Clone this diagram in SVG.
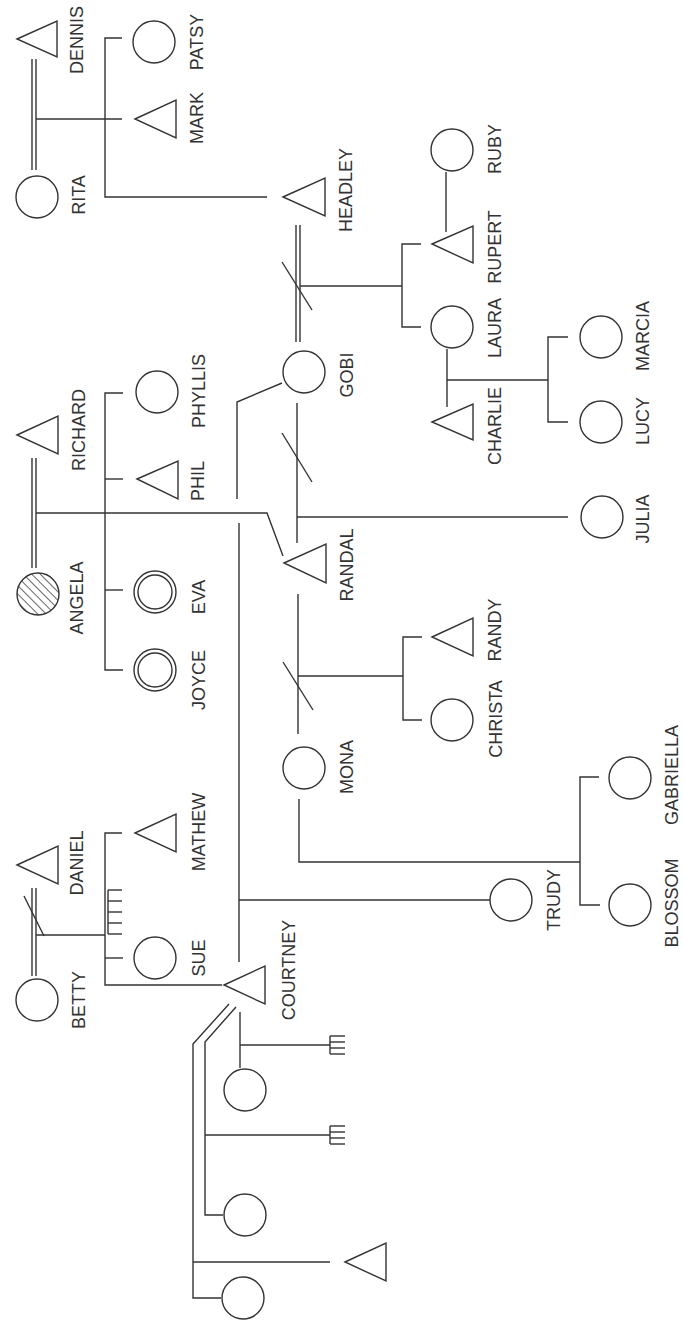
<svg xmlns="http://www.w3.org/2000/svg" width="684" height="1321" viewBox="0 0 684 1321">
<style>
.l{fill:none;stroke:#333;stroke-width:1.4}
.sh{fill:#fff;stroke:#333;stroke-width:1.4}
text{font-family:"Liberation Sans",Arial,sans-serif;font-size:18px;fill:#333;text-anchor:middle}
</style>
<defs>
<pattern id="hatch" width="6" height="6" patternUnits="userSpaceOnUse" patternTransform="rotate(-45)">
<line x1="0" y1="0" x2="0" y2="6" stroke="#333" stroke-width="1.5"/>
</pattern>
</defs>
<rect width="684" height="1321" fill="#fff"/>
<g id="connectors" class="l">
<line x1="32" y1="59" x2="32" y2="170"/><line x1="36" y1="59" x2="36" y2="170"/>
<line x1="36" y1="119" x2="122" y2="119"/>
<polyline points="122,38 105,38 105,197 267,197"/>
<line x1="296" y1="225" x2="296" y2="342"/><line x1="300" y1="225" x2="300" y2="342"/>
<line x1="282" y1="262" x2="312" y2="310"/>
<line x1="300" y1="286" x2="402" y2="286"/>
<polyline points="421,244 402,244 402,327 421,327"/>
<line x1="446" y1="172" x2="446" y2="232"/>
<line x1="447" y1="349" x2="447" y2="407"/>
<line x1="447" y1="380" x2="548" y2="380"/>
<polyline points="568,337 548,337 548,422 568,422"/>
<polyline points="282,383 237,402 237,499"/>
<line x1="239" y1="523" x2="239" y2="962"/>
<line x1="297" y1="403" x2="297" y2="543"/>
<line x1="282" y1="433" x2="312" y2="482"/>
<line x1="297" y1="517" x2="568" y2="517"/>
<line x1="32" y1="458" x2="32" y2="568"/><line x1="36" y1="458" x2="36" y2="568"/>
<polyline points="36,513 267,513 283,556"/>
<polyline points="123,393 105,393 105,670 123,670"/>
<line x1="105" y1="479" x2="123" y2="479"/>
<line x1="105" y1="590" x2="123" y2="590"/>
<line x1="298" y1="594" x2="298" y2="734"/>
<line x1="283" y1="662" x2="313" y2="710"/>
<line x1="298" y1="676" x2="403" y2="676"/>
<polyline points="422,637 403,637 403,720 422,720"/>
<polyline points="299,799 299,862 580,862"/>
<polyline points="599,777 580,777 580,905 600,905"/>
<line x1="32" y1="888" x2="32" y2="976"/><line x1="36" y1="888" x2="36" y2="976"/>
<line x1="24" y1="896" x2="44" y2="936"/>
<line x1="36" y1="935" x2="105" y2="935"/>
<polyline points="122,833 105,833 105,985 222,985"/>
<line x1="105" y1="958" x2="123" y2="958"/>
<line x1="108" y1="890" x2="108" y2="934"/>
<line x1="108" y1="890" x2="122" y2="890"/><line x1="108" y1="901" x2="122" y2="901"/><line x1="108" y1="912" x2="122" y2="912"/><line x1="108" y1="923" x2="122" y2="923"/><line x1="108" y1="934" x2="122" y2="934"/>
<line x1="239" y1="900" x2="490" y2="900"/>
<line x1="240" y1="1012" x2="240" y2="1068"/>
<line x1="240" y1="1045" x2="330" y2="1045"/>
<line x1="330" y1="1036" x2="330" y2="1054"/>
<line x1="330" y1="1036" x2="345" y2="1036"/><line x1="330" y1="1042" x2="345" y2="1042"/><line x1="330" y1="1048" x2="345" y2="1048"/><line x1="330" y1="1054" x2="345" y2="1054"/>
<polyline points="236,1007 205,1042 205,1215 223,1215"/>
<line x1="205" y1="1135" x2="330" y2="1135"/>
<line x1="330" y1="1126" x2="330" y2="1144"/>
<line x1="330" y1="1126" x2="345" y2="1126"/><line x1="330" y1="1132" x2="345" y2="1132"/><line x1="330" y1="1138" x2="345" y2="1138"/><line x1="330" y1="1144" x2="345" y2="1144"/>
<polyline points="229,1004 193,1044 193,1298 221,1298"/>
<line x1="193" y1="1262" x2="330" y2="1262"/>
</g>
<g id="dennis"><polygon class="sh" points="17,39 57,21 57,57"/><text transform="translate(83,40) rotate(-90)">DENNIS</text></g>
<g id="rita"><circle class="sh" cx="37" cy="197" r="21"/><text transform="translate(85,195) rotate(-90)">RITA</text></g>
<g id="mark"><polygon class="sh" points="135,119 176,100 176,138"/><text transform="translate(203,118) rotate(-90)">MARK</text></g>
<g id="patsy"><circle class="sh" cx="154" cy="42" r="21"/><text transform="translate(203,42) rotate(-90)">PATSY</text></g>
<g id="headley"><polygon class="sh" points="283,197 325,178 325,216"/><text transform="translate(352,190) rotate(-90)">HEADLEY</text></g>
<g id="ruby"><circle class="sh" cx="452" cy="150" r="21"/><text transform="translate(501,149) rotate(-90)">RUBY</text></g>
<g id="rupert"><polygon class="sh" points="432,244 473,226 473,263"/><text transform="translate(501,247) rotate(-90)">RUPERT</text></g>
<g id="laura"><circle class="sh" cx="452" cy="327" r="21"/><text transform="translate(501,328) rotate(-90)">LAURA</text></g>
<g id="gobi"><circle class="sh" cx="304" cy="372" r="21"/><text transform="translate(353,375) rotate(-90)">GOBI</text></g>
<g id="marcia"><circle class="sh" cx="601" cy="337" r="21"/><text transform="translate(649,336) rotate(-90)">MARCIA</text></g>
<g id="charlie"><polygon class="sh" points="432,422 473,404 473,440"/><text transform="translate(501,426) rotate(-90)">CHARLIE</text></g>
<g id="lucy"><circle class="sh" cx="601" cy="422" r="21"/><text transform="translate(649,421) rotate(-90)">LUCY</text></g>
<g id="julia"><circle class="sh" cx="602" cy="517" r="21"/><text transform="translate(649,519) rotate(-90)">JULIA</text></g>
<g id="richard"><polygon class="sh" points="17,435 58,416 58,454"/><text transform="translate(85,430) rotate(-90)">RICHARD</text></g>
<g id="angela"><circle cx="38" cy="594" r="21" fill="url(#hatch)" stroke="#333" stroke-width="1.4"/><text transform="translate(83,598) rotate(-90)">ANGELA</text></g>
<g id="phyllis"><circle class="sh" cx="157" cy="392" r="21"/><text transform="translate(205,391) rotate(-90)">PHYLLIS</text></g>
<g id="phil"><polygon class="sh" points="137,479 178,461 178,499"/><text transform="translate(204,481) rotate(-90)">PHIL</text></g>
<g id="eva"><circle class="sh" cx="155" cy="592" r="21"/><circle class="sh" cx="155" cy="592" r="17"/><text transform="translate(205,597) rotate(-90)">EVA</text></g>
<g id="joyce"><circle class="sh" cx="155" cy="670" r="21"/><circle class="sh" cx="155" cy="670" r="17"/><text transform="translate(205,680) rotate(-90)">JOYCE</text></g>
<g id="randal"><polygon class="sh" points="284,563 326,544 326,583"/><text transform="translate(353,565) rotate(-90)">RANDAL</text></g>
<g id="randy"><polygon class="sh" points="432,637 473,618 473,656"/><text transform="translate(501,630) rotate(-90)">RANDY</text></g>
<g id="christa"><circle class="sh" cx="452" cy="720" r="21"/><text transform="translate(502,719) rotate(-90)">CHRISTA</text></g>
<g id="mona"><circle class="sh" cx="304" cy="768" r="21"/><text transform="translate(353,767) rotate(-90)">MONA</text></g>
<g id="gabriella"><circle class="sh" cx="630" cy="778" r="21"/><text transform="translate(678,775) rotate(-90)">GABRIELLA</text></g>
<g id="blossom"><circle class="sh" cx="630" cy="905" r="21"/><text transform="translate(678,903) rotate(-90)">BLOSSOM</text></g>
<g id="daniel"><polygon class="sh" points="17,865 58,846 58,884"/><text transform="translate(83,863) rotate(-90)">DANIEL</text></g>
<g id="mathew"><polygon class="sh" points="135,833 176,814 176,852"/><text transform="translate(205,832) rotate(-90)">MATHEW</text></g>
<g id="betty"><circle class="sh" cx="37" cy="1000" r="21"/><text transform="translate(85,1000) rotate(-90)">BETTY</text></g>
<g id="sue"><circle class="sh" cx="155" cy="958" r="21"/><text transform="translate(205,958) rotate(-90)">SUE</text></g>
<g id="courtney"><polygon class="sh" points="224,985 265,966 265,1004"/><text transform="translate(295,970) rotate(-90)">COURTNEY</text></g>
<g id="trudy"><circle class="sh" cx="511" cy="900" r="21"/><text transform="translate(560,900) rotate(-90)">TRUDY</text></g>
<g id="partner1"><circle class="sh" cx="245" cy="1090" r="21"/></g>
<g id="partner2"><circle class="sh" cx="245" cy="1215" r="21"/></g>
<g id="partner3"><circle class="sh" cx="243" cy="1298" r="21"/></g>
<g id="child3"><polygon class="sh" points="345,1262 386,1243 386,1281"/></g>
</svg>
